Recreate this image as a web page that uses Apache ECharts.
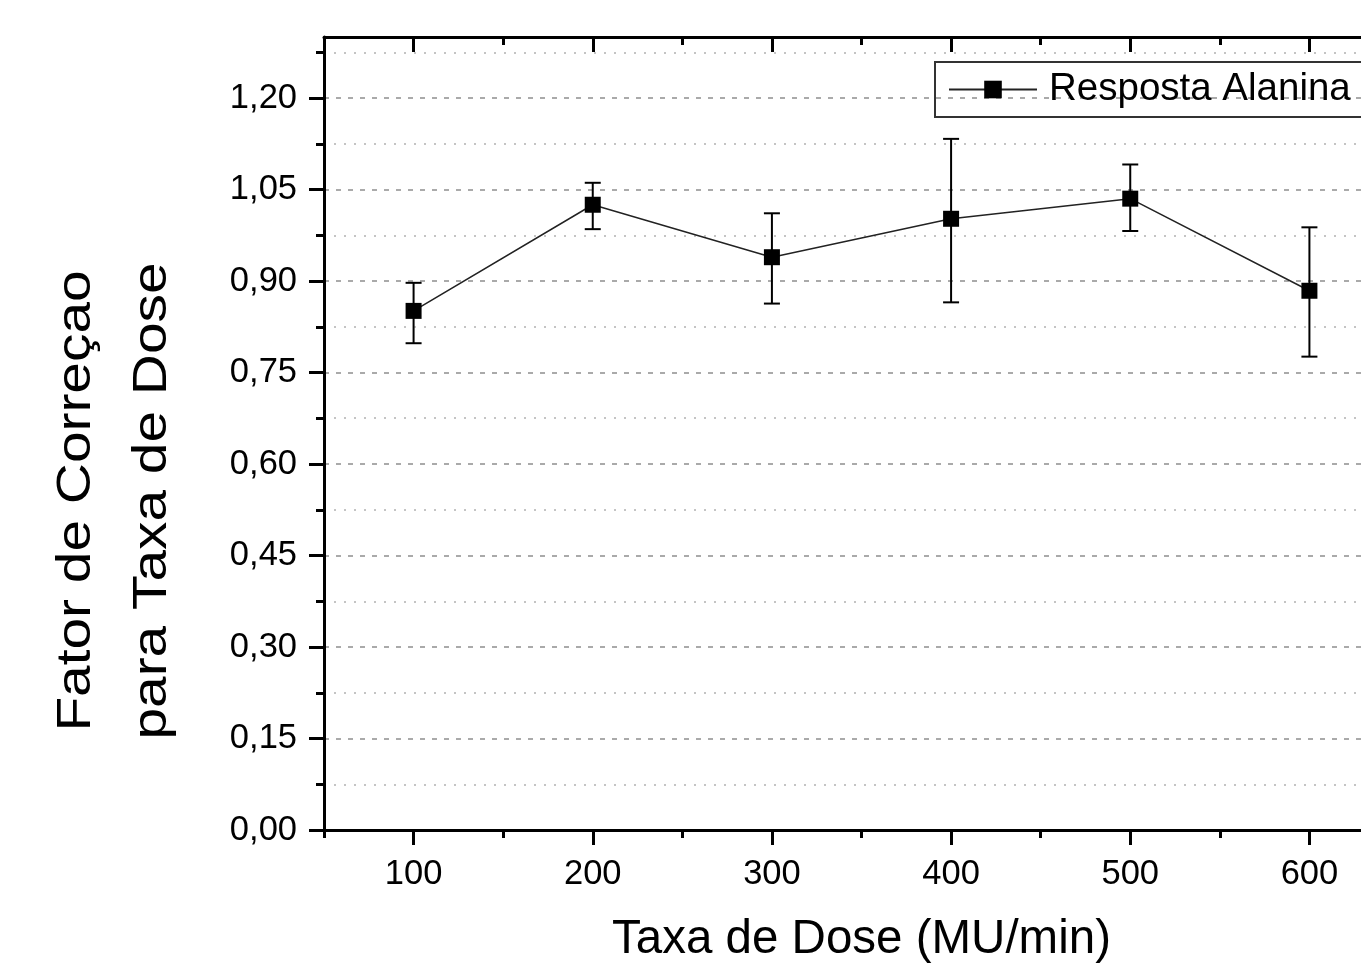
<!DOCTYPE html>
<html>
<head>
<meta charset="utf-8">
<script src="https://cdn.jsdelivr.net/npm/echarts@6/dist/echarts.min.js"></script>
<style>
	html, body { margin: 0; padding: 0; background: #fff; overflow: hidden; }
	/* the plot runs past the right edge of the window, as in the original figure */
	#chart { width: 1399px; height: 963px; }
</style>
</head>
<body>
<div id="chart"></div>
<script>
const doseRates = [100, 200, 300, 400, 500, 600];
const factors = [0.851, 1.025, 0.939, 1.002, 1.035, 0.884];
const errLow = [0.798, 0.985, 0.863, 0.865, 0.982, 0.776];
const errHigh = [0.897, 1.061, 1.011, 1.133, 1.091, 0.988];

const majorX = [100, 200, 300, 400, 500, 600];
const minorX = [50, 150, 250, 350, 450, 550, 650];
const majorY = [0, 0.15, 0.3, 0.45, 0.6, 0.75, 0.9, 1.05, 1.2];
const minorY = [0.075, 0.225, 0.375, 0.525, 0.675, 0.825, 0.975, 1.125, 1.275];

const FONT = "'Liberation Sans', Arial, sans-serif";

function xAxisBase(position) {
	return {
		type: 'value',
		min: 50,
		max: 650,
		position: position,
		axisLine: { show: false, onZero: false },
		axisLabel: { show: false },
		splitLine: { show: false }
	};
}

function renderErrorBar(params, api) {
	const x = api.value(0);
	const low = api.coord([x, api.value(1)]);
	const high = api.coord([x, api.value(2)]);
	const cap = 8;
	const style = { stroke: '#000', lineWidth: 2 };
	return {
		type: 'group',
		children: [
			{ type: 'line', shape: { x1: low[0], y1: low[1], x2: high[0], y2: high[1] }, style: style },
			{ type: 'line', shape: { x1: low[0] - cap, y1: low[1], x2: low[0] + cap, y2: low[1] }, style: style },
			{ type: 'line', shape: { x1: high[0] - cap, y1: high[1], x2: high[0] + cap, y2: high[1] }, style: style }
		]
	};
}

const chart = echarts.init(document.getElementById('chart'));

chart.setOption({
	animation: false,
	textStyle: { fontFamily: FONT },
	grid: { left: 324, top: 37, right: 0, bottom: 133, containLabel: false, outerBoundsMode: 'none' },
	legend: {
		left: 935,
		top: 62,
		padding: [8, 40, 8, 13],
		borderColor: '#333',
		borderWidth: 2,
		itemWidth: 88,
		itemHeight: 22,
		textStyle: { fontSize: 38.5, color: '#000', fontFamily: FONT, padding: [0, 0, 0, 7] },
		data: ['Resposta Alanina']
	},
	xAxis: [
		Object.assign(xAxisBase('bottom'), {
			axisLine: { show: true, onZero: false, lineStyle: { color: '#000', width: 3 } },
			axisTick: { customValues: majorX, length: 15, lineStyle: { color: '#000', width: 3 } },
			axisLabel: {
				customValues: majorX, fontSize: 34.5, margin: 27, color: '#000', fontFamily: FONT
			},
			name: 'Taxa de Dose (MU/min)',
			nameLocation: 'middle',
			nameGap: 86,
			nameTextStyle: { fontSize: 47.5, color: '#000', fontFamily: FONT }
		}),
		Object.assign(xAxisBase('bottom'), {
			axisTick: { customValues: minorX, length: 8, lineStyle: { color: '#000', width: 3 } }
		}),
		Object.assign(xAxisBase('top'), {
			axisLine: { show: true, onZero: false, lineStyle: { color: '#000', width: 3 } },
			axisTick: { customValues: majorX, inside: true, length: 15, lineStyle: { color: '#000', width: 3 } }
		}),
		Object.assign(xAxisBase('top'), {
			axisTick: { customValues: minorX, inside: true, length: 8, lineStyle: { color: '#000', width: 3 } }
		})
	],
	yAxis: [
		{
			type: 'value',
			min: 0,
			max: 1.3,
			interval: 0.15,
			position: 'left',
			axisLine: { show: true, onZero: false, lineStyle: { color: '#000', width: 3 } },
			axisTick: { customValues: majorY, length: 15, lineStyle: { color: '#000', width: 3 } },
			axisLabel: {
				customValues: majorY,
				fontSize: 34.5,
				margin: 27,
				color: '#000',
				fontFamily: FONT,
				formatter: v => v.toFixed(2).replace('.', ',')
			},
			splitLine: { show: true, lineStyle: { color: '#aaa', width: 2, type: [5, 7] } }
		},
		{
			type: 'value',
			min: 0,
			max: 1.3,
			interval: 0.075,
			position: 'left',
			axisLine: { show: false, onZero: false },
			axisTick: { customValues: minorY, length: 8, lineStyle: { color: '#000', width: 3 } },
			axisLabel: { show: false },
			splitLine: { show: true, lineStyle: { color: '#c4c4c4', width: 2, type: [2, 8] } }
		}
	],
	graphic: [{
		// y title is a bit stretched along its length in the original
		type: 'text',
		x: 114,
		y: 501,
		rotation: Math.PI / 2,
		scaleX: 1.16,
		style: {
			text: 'Fator de Correçao\npara Taxa de Dose',
			fontSize: 49,
			fontFamily: FONT,
			lineHeight: 76,
			fill: '#000',
			align: 'center',
			verticalAlign: 'middle'
		}
	}],
	series: [
		{
			name: 'Erro',
			type: 'custom',
			xAxisIndex: 0,
			yAxisIndex: 0,
			renderItem: renderErrorBar,
			encode: { x: 0, y: [1, 2] },
			data: doseRates.map((x, i) => [x, errLow[i], errHigh[i]]),
			z: 2
		},
		{
			name: 'Resposta Alanina',
			type: 'line',
			xAxisIndex: 0,
			yAxisIndex: 0,
			symbol: 'rect',
			symbolSize: 16,
			itemStyle: { color: '#000' },
			lineStyle: { color: '#222', width: 1.5 },
			data: doseRates.map((x, i) => [x, factors[i]]),
			z: 3
		}
	]
});

window.addEventListener('resize', () => chart.resize());
</script>
</body>
</html>
